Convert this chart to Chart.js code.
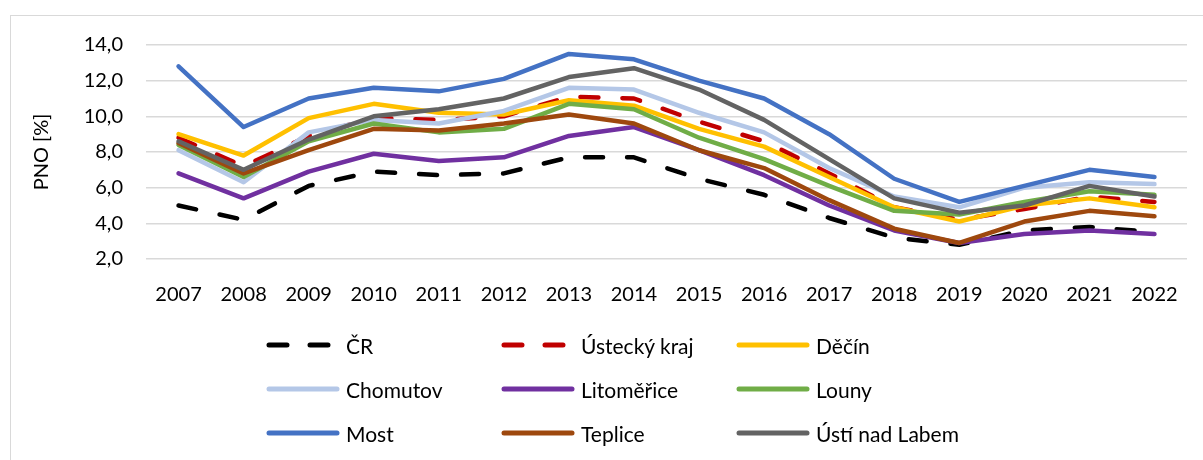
<!DOCTYPE html>
<html>
<head>
<meta charset="utf-8">
<script src="https://cdn.jsdelivr.net/npm/chart.js@4.4.0/dist/chart.umd.min.js"></script>
<style>
  body { margin: 0; background: #fff; }
  #wrap { position: relative; width: 1203px; height: 460px; overflow: hidden; font-family: Lato, sans-serif; }
  #frame { position: absolute; left: 10px; top: 15px; width: 1300px; height: 600px; border: 1.5px solid #d9d9d9; }
  #pno { position: absolute; left: 0; top: 0; }
  #legend { position: absolute; left: 266px; top: 323px; display: grid; grid-template-columns: 235px 235px 235px; grid-auto-rows: 44px; }
  .item { display: flex; align-items: center; font-size: 21px; color: #000; }
  .item svg { margin-right: 6px; }
</style>
</head>
<body>
<div id="wrap">
  <div id="frame"></div>
  <canvas id="pno" width="1203" height="460"></canvas>
  <div id="legend"></div>
</div>
<script>
// data
const years = ["2007", "2008", "2009", "2010", "2011", "2012", "2013", "2014", "2015", "2016", "2017", "2018", "2019", "2020", "2021", "2022"];
const cr = [5.0, 4.2, 6.1, 6.9, 6.7, 6.8, 7.7, 7.7, 6.5, 5.6, 4.3, 3.2, 2.8, 3.6, 3.8, 3.5];
const ustecky = [8.8, 7.2, 8.9, 9.9, 9.8, 10.0, 11.1, 11.0, 9.7, 8.6, 6.8, 4.9, 4.2, 4.8, 5.5, 5.2];
const decin = [9.0, 7.8, 9.9, 10.7, 10.2, 10.1, 10.9, 10.6, 9.3, 8.3, 6.6, 4.9, 4.1, 5.0, 5.4, 4.9];
const chomutov = [8.1, 6.3, 9.1, 9.8, 9.6, 10.3, 11.6, 11.5, 10.2, 9.1, 7.1, 5.5, 4.9, 6.0, 6.3, 6.2];
const litomerice = [6.8, 5.4, 6.9, 7.9, 7.5, 7.7, 8.9, 9.4, 8.1, 6.7, 5.0, 3.6, 2.9, 3.4, 3.6, 3.4];
const louny = [8.4, 6.6, 8.6, 9.6, 9.1, 9.3, 10.7, 10.4, 8.8, 7.6, 6.1, 4.7, 4.5, 5.2, 5.8, 5.6];
const most = [12.8, 9.4, 11.0, 11.6, 11.4, 12.1, 13.5, 13.2, 12.0, 11.0, 9.0, 6.5, 5.2, 6.1, 7.0, 6.6];
const teplice = [8.5, 6.8, 8.1, 9.3, 9.2, 9.6, 10.1, 9.6, 8.1, 7.1, 5.3, 3.7, 2.9, 4.1, 4.7, 4.4];
const ustiNL = [8.6, 7.0, 8.7, 10.0, 10.4, 11.0, 12.2, 12.7, 11.5, 9.8, 7.6, 5.4, 4.6, 5.0, 6.1, 5.5];

const series = [
  { label: "ČR", data: cr, color: "#000000", dash: true },
  { label: "Ústecký kraj", data: ustecky, color: "#C00000", dash: true },
  { label: "Děčín", data: decin, color: "#FFC000" },
  { label: "Chomutov", data: chomutov, color: "#B4C7E7" },
  { label: "Litoměřice", data: litomerice, color: "#7030A0" },
  { label: "Louny", data: louny, color: "#70AD47" },
  { label: "Most", data: most, color: "#4472C4" },
  { label: "Teplice", data: teplice, color: "#9E480E" },
  { label: "Ústí nad Labem", data: ustiNL, color: "#636363" },
];

const fontFam = "Lato, sans-serif";

let ctx = document.getElementById("pno").getContext("2d");

let myChart = new Chart(ctx, {
  type: "line",
  data: {
    labels: years,
    datasets: series.map((s, i) => ({
      label: s.label,
      data: s.data,
      borderColor: s.color,
      backgroundColor: s.color,
      borderWidth: 4.5,
      borderDash: s.dash ? [18, 24] : [],
      borderCapStyle: "round",
      borderJoinStyle: "round",
      pointRadius: 0,
      tension: 0,
      order: series.length - i, // later series on top, like Excel
    })),
  },
  options: {
    responsive: false,
    animation: false,
    layout: { padding: { top: 45, right: 16, bottom: 141, left: 0 } },
    plugins: { legend: { display: false }, tooltip: { enabled: false } },
    scales: {
      x: {
        offset: true,
        grid: { display: false },
        border: { display: false },
        ticks: { color: "#000", font: { family: fontFam, size: 20 }, padding: 16, maxRotation: 0 },
        afterFit: (s) => { s.height = 60; },
      },
      y: {
        min: 2,
        max: 14,
        grid: { color: "#d9d9d9", lineWidth: 1.5, drawTicks: false },
        border: { display: false },
        ticks: {
          stepSize: 2,
          color: "#000",
          padding: 23,
          font: { family: fontFam, size: 20 },
          callback: (v) => v.toFixed(1).replace(".", ","),
        },
        title: { display: true, text: "PNO [%]", color: "#000", font: { family: fontFam, size: 20 }, padding: { top: 30, bottom: 0 } },
        afterFit: (s) => { s.width = 146; },
      },
    },
  },
});

// legend as html grid, 3 columns like the original
const legendBox = document.getElementById("legend");
myChart.data.datasets.forEach((ds, i) => {
  const item = document.createElement("div");
  item.className = "item";
  const dash = series[i].dash ? ' stroke-dasharray="18 23"' : "";
  item.innerHTML =
    '<svg width="74" height="10"><line x1="3" y1="5" x2="71" y2="5" stroke="' + ds.borderColor +
    '" stroke-width="5" stroke-linecap="round"' + dash + "/></svg>";
  const txt = document.createElement("span");
  txt.textContent = ds.label;
  item.appendChild(txt);
  legendBox.appendChild(item);
});
</script>
</body>
</html>
